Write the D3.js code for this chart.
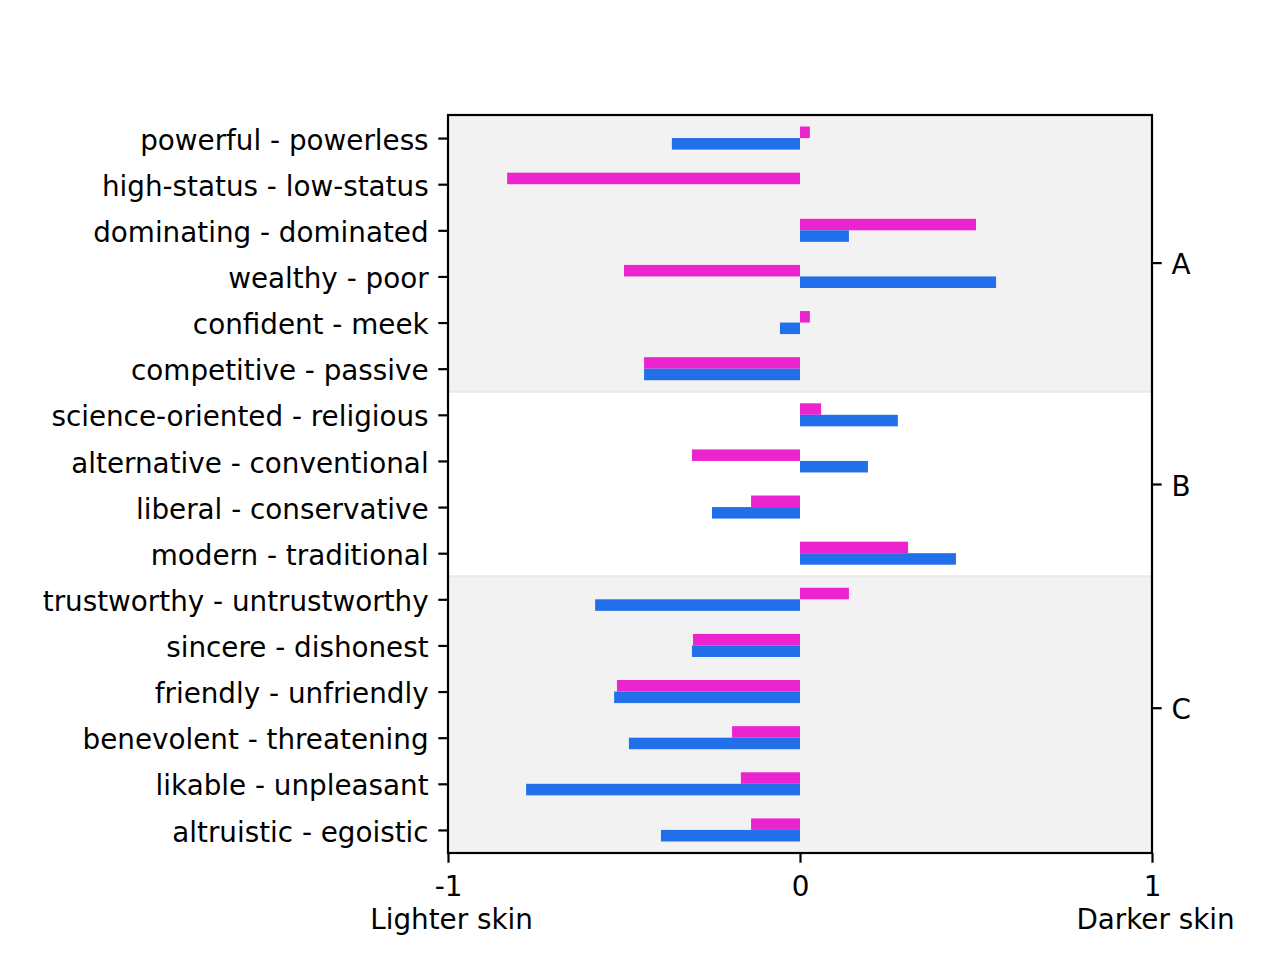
<!DOCTYPE html>
<html>
<head>
<meta charset="utf-8">
<script src="https://cdn.jsdelivr.net/npm/d3@7"></script>
<style>
  body { margin: 0; background: #fff; }
  svg text { font-family: "DejaVu Sans", sans-serif; }
</style>
</head>
<body>
<svg id="canvas" width="1280" height="960"></svg>
<script>
const categories = [
    'powerful - powerless', 'high-status - low-status', 'dominating - dominated',
    'wealthy - poor', 'confident - meek', 'competitive - passive',
    'science-oriented - religious', 'alternative - conventional', 'liberal - conservative',
    'modern - traditional', 'trustworthy - untrustworthy', 'sincere - dishonest',
    'friendly - unfriendly', 'benevolent - threatening', 'likable - unpleasant',
    'altruistic - egoistic'
];

// pink series (upper bar) and blue series (lower bar)
const pinkValues = [0.028, -0.832, 0.5, -0.5, 0.028, -0.443, 0.06, -0.307, -0.139, 0.307,
    0.139, -0.304, -0.52, -0.193, -0.168, -0.139];
const blueValues = [-0.364, 0, 0.139, 0.557, -0.057, -0.443, 0.278, 0.193, -0.25, 0.443,
    -0.582, -0.307, -0.528, -0.486, -0.778, -0.395];

const groupNames = ['A', 'B', 'C'];
const groupStart = [0, 6, 10];
const groupEnd = [5, 9, 15];
const groupLabelPos = [2.7, 7.5, 12.35];

const xTicks = [-1, 0, 1];
const xTickLabels = ['-1', '0', '1'];
const xTickSubLabels = ['Lighter skin', '', 'Darker skin'];

const margin = { left: 448, right: 1152, top: 115, bottom: 853 };
const fontSize = 27.8;
const tickLen = 9.7;
const tickPad = 9.7;

const svg = d3.select('#canvas');

const x = d3.scaleLinear().domain([-1, 1]).range([margin.left, margin.right]);
const y = d3.scaleLinear().domain([-0.5, 15.5]).range([margin.top, margin.bottom]);
const barH = y(0.25) - y(0);

// group bands
svg.selectAll('rect.band')
    .data(groupNames)
    .enter()
    .append('rect')
    .attr('class', 'band')
    .attr('x', x(-1))
    .attr('width', x(1) - x(-1))
    .attr('y', (d, i) => y(groupStart[i] - 0.5))
    .attr('height', (d, i) => y(groupEnd[i] + 0.5) - y(groupStart[i] - 0.5))
    .attr('fill', (d, i) => i % 2 === 0 ? '#f2f2f2' : '#ffffff');

svg.selectAll('line.bandEdge')
    .data(groupEnd.slice(0, -1))
    .enter()
    .append('line')
    .attr('x1', x(-1))
    .attr('x2', x(1))
    .attr('y1', d => y(d + 0.5))
    .attr('y2', d => y(d + 0.5))
    .attr('stroke', '#e9e9e9')
    .attr('stroke-width', 2);

// bars
svg.selectAll('rect.pink')
    .data(pinkValues)
    .enter()
    .append('rect')
    .attr('x', d => x(Math.min(0, d)))
    .attr('width', d => Math.abs(x(d) - x(0)))
    .attr('y', (d, i) => y(i - 0.25))
    .attr('height', barH)
    .attr('fill', '#ec24cf');

svg.selectAll('rect.blue')
    .data(blueValues)
    .enter()
    .append('rect')
    .attr('x', d => x(Math.min(0, d)))
    .attr('width', d => Math.abs(x(d) - x(0)))
    .attr('y', (d, i) => y(i))
    .attr('height', barH)
    .attr('fill', '#226fea');

// left axis
const yAxis = d3.axisLeft(y)
    .tickValues(d3.range(categories.length))
    .tickFormat(i => categories[i])
    .tickSize(tickLen)
    .tickPadding(tickPad);

const gLeft = svg.append('g')
    .attr('transform', `translate(${margin.left},0)`)
    .call(yAxis);

// right axis (groups)
const yAxisRight = d3.axisRight(y)
    .tickValues(groupLabelPos)
    .tickFormat((d, i) => groupNames[i])
    .tickSize(tickLen)
    .tickPadding(tickPad);

const gRight = svg.append('g')
    .attr('transform', `translate(${margin.right},0)`)
    .call(yAxisRight);

// bottom axis
const xAxis = d3.axisBottom(x)
    .tickValues(xTicks)
    .tickFormat((d, i) => xTickLabels[i])
    .tickSize(tickLen)
    .tickPadding(tickPad);

const gBottom = svg.append('g')
    .attr('transform', `translate(0,${margin.bottom})`)
    .call(xAxis);

gBottom.selectAll('.tick text').attr('dy', '0.84em');

gBottom.selectAll('.tick')
    .append('text')
    .attr('class', 'sub')
    .attr('fill', '#000')
    .attr('y', tickLen + tickPad)
    .attr('dx', 3)
    .attr('dy', '2.02em')
    .attr('text-anchor', 'middle')
    .text((d, i) => xTickSubLabels[i]);

[gLeft, gRight].forEach(g => g.selectAll('.tick text').attr('dy', '0.4em'));

[gLeft, gRight, gBottom].forEach(g => {
    g.select('.domain').remove();
    g.selectAll('.tick line').attr('stroke', '#000').attr('stroke-width', 2.2);
    g.selectAll('.tick text').attr('font-size', fontSize).attr('fill', '#000');
});

// spines
svg.append('rect')
    .attr('x', margin.left)
    .attr('y', margin.top)
    .attr('width', margin.right - margin.left)
    .attr('height', margin.bottom - margin.top)
    .attr('fill', 'none')
    .attr('stroke', '#000')
    .attr('stroke-width', 2.2);
</script>
</body>
</html>
